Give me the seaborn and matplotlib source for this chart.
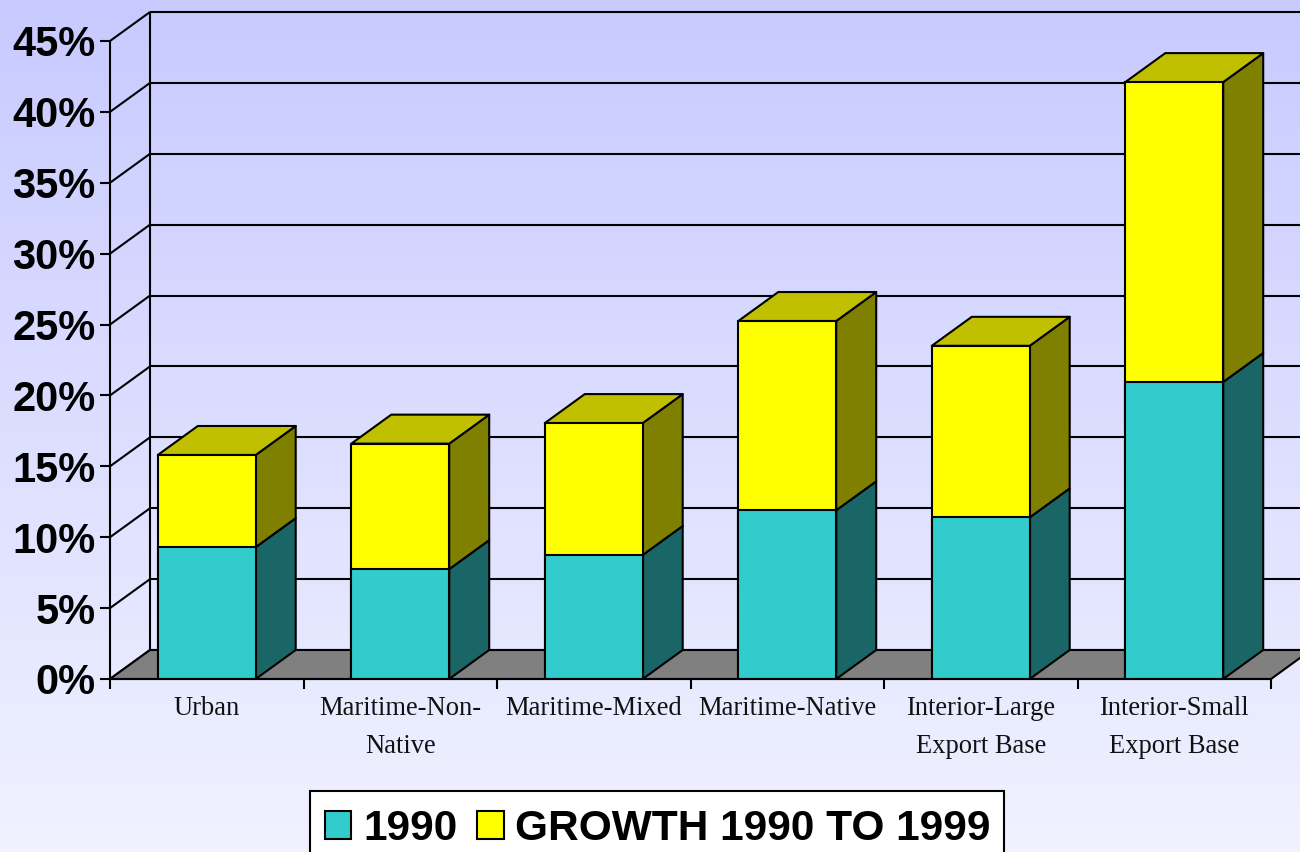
import numpy as np
import pandas as pd
import matplotlib
matplotlib.use("Agg")
import matplotlib.pyplot as plt
from matplotlib.colors import LinearSegmentedColormap
from matplotlib.patches import Patch, Rectangle
import seaborn as sns

categories = ["Urban", "Maritime-Non-\nNative", "Maritime-Mixed", "Maritime-Native",
              "Interior-Large\nExport Base", "Interior-Small\nExport Base"]
base_1990 = [9.3, 7.75, 8.75, 11.9, 11.4, 20.95]
growth = [6.5, 8.85, 9.3, 13.35, 12.1, 21.15]
y_ticks = [0, 5, 10, 15, 20, 25, 30, 35, 40, 45]
legend_labels = ["1990", "GROWTH 1990 TO 1999"]

W, H = 1300, 852
TEAL, TEAL_SIDE = "#33CCCC", "#1A6666"
YELLOW, YELLOW_SIDE, YELLOW_TOP = "#FFFF00", "#808000", "#C0C000"
FLOOR = "#808080"
LW = 1.5

sns.set_theme(style="white")
plt.rcParams["font.family"] = ["Liberation Sans", "DejaVu Sans"]

df = pd.DataFrame({"cat": categories, "base": base_1990, "growth": growth})
df["total"] = df["base"] + df["growth"]

fig = plt.figure(figsize=(W / 100, H / 100), dpi=100)

# background gradient
bg = fig.add_axes([0, 0, 1, 1], zorder=0)
cmap = LinearSegmentedColormap.from_list("bg", ["#C8CAFF", "#F0F2FF"])
bg.imshow(np.linspace(0, 1, 256).reshape(-1, 1), aspect="auto", cmap=cmap)
bg.axis("off")

ax = fig.add_axes([110 / W, (H - 679) / H, 1161 / W, 638 / H], zorder=1)
ax.patch.set_alpha(0)

sns.barplot(data=df, x="cat", y="total", color=YELLOW, saturation=1, width=0.506,
            edgecolor="black", linewidth=LW, ax=ax, zorder=3)
sns.barplot(data=df, x="cat", y="base", color=TEAL, saturation=1, width=0.506,
            edgecolor="black", linewidth=LW, ax=ax, zorder=3)

ax.set_xlim(-0.5, 5.5)
ax.set_ylim(0, 45)

# depth of the fake 3d box, in data units
dx = 40 / (1161 / 6)
dy = 29 / (638 / 45)
x0, x1 = ax.get_xlim()
far = x1 + dx


def poly(xs, ys, color, z=2.5):
    ax.fill(xs, ys, facecolor=color, edgecolor="black", linewidth=LW, clip_on=False,
            zorder=z, joinstyle="round")


def line(xs, ys, z=1):
    ax.plot(xs, ys, color="black", lw=LW, clip_on=False, zorder=z, solid_capstyle="butt")


# walls and floor
poly([x0, x1, far, x0 + dx], [0, 0, dy, dy], FLOOR, z=1.5)
for v in y_ticks:
    line([x0, x0 + dx], [v, v + dy])
    line([x0 + dx, far], [v + dy, v + dy])
line([x0, x0], [0, 45])
line([x0 + dx, x0 + dx], [dy, 45 + dy])

# side and top faces from the drawn bars
for top, low in zip(ax.containers[0], ax.containers[1]):
    l, r = top.get_x(), top.get_x() + top.get_width()
    h1, h2 = low.get_height(), top.get_height()
    poly([r, r + dx, r + dx, r], [0, dy, h1 + dy, h1], TEAL_SIDE)
    poly([r, r + dx, r + dx, r], [h1, h1 + dy, h2 + dy, h2], YELLOW_SIDE)
    poly([l, l + dx, r + dx, r], [h2, h2 + dy, h2 + dy, h2], YELLOW_TOP)

sns.despine(ax=ax, left=True, right=True, top=True, bottom=False)
ax.spines["bottom"].set_linewidth(LW)
ax.spines["bottom"].set_color("black")
ax.spines["bottom"].set_zorder(4)

ax.set_xlabel("")
ax.set_ylabel("")
ax.set_yticks(y_ticks)
ax.set_yticklabels([f"{v}%" for v in y_ticks], fontsize=30, fontweight="bold", color="black")
ax.tick_params(axis="y", left=True, length=7.5, width=LW, color="black", pad=3)
ax.set_xticks(range(len(categories)))
ax.set_xticklabels(categories, family="Liberation Serif", fontsize=19.1, color="#111111", linespacing=1.65)
ax.tick_params(axis="x", which="major", bottom=False, length=0, pad=12.5)
ax.set_xticks(np.arange(-0.5, 6, 1), minor=True)
ax.tick_params(axis="x", which="minor", bottom=True, length=7.5, width=LW, color="black")

# legend box is taller than the text, so it is drawn on its own
fig.add_artist(Rectangle((310 / W, -0.01), 694 / W, 61 / H + 0.01, transform=fig.transFigure,
                         facecolor="white", edgecolor="black", linewidth=LW, zorder=2))
handles = [Patch(facecolor=TEAL, edgecolor="black", linewidth=LW),
           Patch(facecolor=YELLOW, edgecolor="black", linewidth=LW)]
fig.legend(handles, legend_labels, ncol=2, loc="lower center", bbox_to_anchor=(658 / W, -11 / H),
           frameon=False, labelcolor="black",
           prop={"family": "Liberation Sans", "weight": "bold", "size": 30.5},
           handlelength=0.62, handleheight=0.62, handletextpad=0.28, columnspacing=0.47,
           borderpad=0.33, borderaxespad=0)

fig.savefig("out.png", dpi=100)
